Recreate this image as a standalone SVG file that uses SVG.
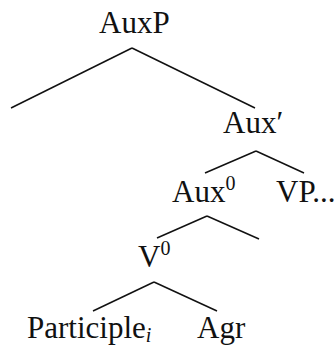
<svg xmlns="http://www.w3.org/2000/svg" width="335" height="345" viewBox="0 0 335 345">
<style>
text{font-family:"Liberation Serif","DejaVu Serif",serif;font-size:31px;fill:#111}
.sup{font-size:20px}
.sub{font-size:20px;font-style:italic}
.e{stroke:#111;stroke-width:1.5;fill:none}
</style>
<rect width="335" height="345" fill="#fff"/>
<g id="connectors">
<line class="e" x1="132" y1="48" x2="11" y2="108"/>
<line class="e" x1="132" y1="48" x2="255" y2="108"/>
<line class="e" x1="256" y1="151" x2="205" y2="173"/>
<line class="e" x1="256" y1="151" x2="304" y2="173"/>
<line class="e" x1="207" y1="216" x2="157" y2="238"/>
<line class="e" x1="207" y1="216" x2="259" y2="239"/>
<line class="e" x1="154" y1="282" x2="93" y2="311"/>
<line class="e" x1="154" y1="282" x2="217" y2="311"/>
</g>
<g id="auxp"><text x="99" y="33">AuxP</text></g>
<g id="auxbar"><text x="223" y="133">Aux′</text></g>
<g id="aux0"><text x="172" y="202">Aux<tspan class="sup" dy="-12">0</tspan></text></g>
<g id="vp"><text x="276" y="202">VP...</text></g>
<g id="v0"><text x="138" y="267">V<tspan class="sup" dy="-12">0</tspan></text></g>
<g id="participle"><text x="27" y="338">Participle<tspan class="sub" dy="4">i</tspan></text></g>
<g id="agr"><text x="197" y="338">Agr</text></g>
</svg>
